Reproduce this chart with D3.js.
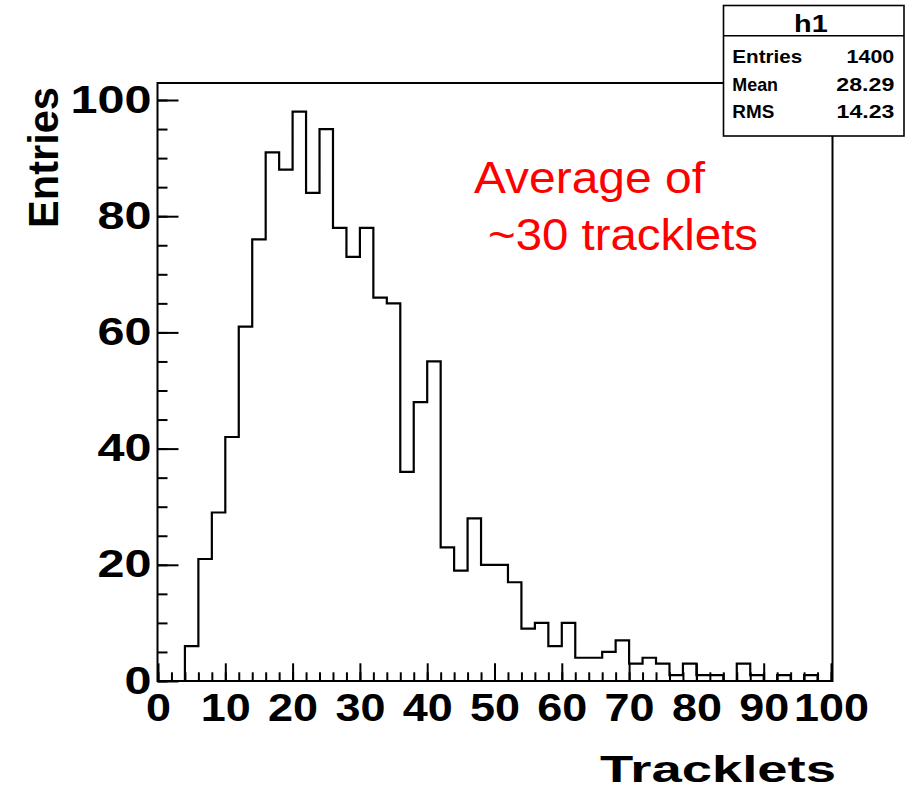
<!DOCTYPE html>
<html>
<head>
<meta charset="utf-8">
<script src="https://cdn.jsdelivr.net/npm/d3@7"></script>
<style>
  html, body { margin: 0; padding: 0; background: #fff; }
  svg { display: block; }
  text { font-family: "Liberation Sans", Arial, Helvetica, sans-serif; }
</style>
</head>
<body>
<svg id="chart" width="916" height="791"></svg>
<script>
// Histogram h1: tracklet multiplicity, 50 bins of width 2 from 0 to 100
const binLow = 0;
const binWidth = 2;
const binCounts = [
  0, 0, 6, 21, 29, 42, 61, 76, 91, 88,
  98, 84, 95, 78, 73, 78, 66, 65, 36, 48,
  55, 23, 19, 28, 20, 20, 17, 9, 10, 6,
  10, 4, 4, 5, 7, 3, 4, 3, 1, 3,
  1, 1, 0, 3, 1, 0, 1, 0, 1, 0
];
const xTickValues = [0, 10, 20, 30, 40, 50, 60, 70, 80, 90, 100];
const yTickValues = [0, 20, 40, 60, 80, 100];
const statsTitle = "h1";
const statsNames = ["Entries", "Mean", "RMS"];
const statsValues = ["1400", "28.29", "14.23"];
const xTitle = "Tracklets";
const yTitle = "Entries";
const noteLines = ["Average of", "~30 tracklets"];

const svg = d3.select("#chart");

// Frame of the pad
const frame = { left: 157.5, right: 832.5, top: 83, bottom: 681 };

const x = d3.scaleLinear().domain([0, 100]).range([158, 831]);
const y = d3.scaleLinear().domain([0, 100]).range([681, 100]);

const boldFont = "bold";
const digitSize = 38;

// Frame
svg.append("rect")
  .attr("x", frame.left).attr("y", frame.top)
  .attr("width", frame.right - frame.left)
  .attr("height", frame.bottom - frame.top)
  .attr("fill", "none").attr("stroke", "#000").attr("stroke-width", 2);

// X axis: minor ticks every 2, major every 10, drawn upward into the frame
const xMinor = d3.axisBottom(x).tickValues(d3.range(0, 101, 2)).tickSize(-8.7).tickFormat("");
const gxMinor = svg.append("g").attr("transform", `translate(0,${frame.bottom})`).call(xMinor);
const xMajor = d3.axisBottom(x).tickValues(xTickValues).tickSize(-17.7).tickPadding(13).tickFormat(d3.format("d"));
const gx = svg.append("g").attr("transform", `translate(0,${frame.bottom})`).call(xMajor);

// Y axis: minor ticks every 5, major every 20, drawn rightward into the frame
const yMinor = d3.axisLeft(y).tickValues(d3.range(0, 101, 5)).tickSize(-10).tickFormat("");
const gyMinor = svg.append("g").attr("transform", `translate(${frame.left},0)`).call(yMinor);
const yMajor = d3.axisLeft(y).tickValues(yTickValues).tickSize(-21).tickPadding(6).tickFormat(d3.format("d"));
const gy = svg.append("g").attr("transform", `translate(${frame.left},0)`).call(yMajor);

[gxMinor, gx, gyMinor, gy].forEach(g => {
  g.select(".domain").remove();
  g.selectAll(".tick line").attr("stroke", "#000").attr("stroke-width", 2);
});

gx.selectAll(".tick text")
  .attr("fill", "#000")
  .style("font-size", digitSize + "px").style("font-weight", boldFont)
  .attr("textLength", d => String(d).length * 25)
  .attr("lengthAdjust", "spacingAndGlyphs");

gy.selectAll(".tick text")
  .attr("fill", "#000")
  .style("font-size", digitSize + "px").style("font-weight", boldFont)
  .attr("textLength", d => String(d).length * 27)
  .attr("lengthAdjust", "spacingAndGlyphs");

// Histogram outline as a step line
const steps = binCounts.map((c, i) => [binLow + i * binWidth, c]);
steps.push([binLow + binCounts.length * binWidth, binCounts[binCounts.length - 1]]);
const stepLine = d3.line()
  .x(d => x(d[0]))
  .y(d => y(d[1]))
  .curve(d3.curveStepAfter);
svg.append("path")
  .datum(steps)
  .attr("d", stepLine)
  .attr("fill", "none")
  .attr("stroke", "#000")
  .attr("stroke-width", 2.2)
  .attr("stroke-linejoin", "miter");

// Axis titles
svg.append("text")
  .attr("x", 600).attr("y", 782)
  .style("font-size", "36px").style("font-weight", boldFont)
  .attr("textLength", 236).attr("lengthAdjust", "spacingAndGlyphs")
  .text(xTitle);

svg.append("text")
  .attr("transform", "translate(58,87) rotate(-90)")
  .attr("text-anchor", "end")
  .style("font-size", "42px").style("font-weight", boldFont)
  .attr("textLength", 141).attr("lengthAdjust", "spacingAndGlyphs")
  .text(yTitle);

// Annotation
const noteLayout = [
  { x: 474, y: 193, len: 231 },
  { x: 488, y: 250, len: 270 }
];
noteLines.forEach((t, i) => {
  svg.append("text")
    .attr("x", noteLayout[i].x).attr("y", noteLayout[i].y)
    .attr("fill", "#ff0000")
    .style("font-size", "44px")
    .attr("textLength", noteLayout[i].len).attr("lengthAdjust", "spacingAndGlyphs")
    .text(t);
});

// Statistics box
const box = { left: 723.5, right: 904, top: 5.5, bottom: 136, split: 35.7 };
svg.append("rect")
  .attr("x", box.left).attr("y", box.top)
  .attr("width", box.right - box.left).attr("height", box.bottom - box.top)
  .attr("fill", "#fff").attr("stroke", "#000").attr("stroke-width", 1.6);
svg.append("line")
  .attr("x1", box.left).attr("x2", box.right)
  .attr("y1", box.split).attr("y2", box.split)
  .attr("stroke", "#000").attr("stroke-width", 1.6);

svg.append("text")
  .attr("x", 794).attr("y", 32.3)
  .style("font-size", "24px").style("font-weight", boldFont)
  .attr("textLength", 33.7).attr("lengthAdjust", "spacingAndGlyphs")
  .text(statsTitle);

const rowBase = [62.7, 90.7, 118.3];
const nameLen = [70, 45.7, 42];
const valueLen = [47.7, 58, 57.7];
statsNames.forEach((n, i) => {
  svg.append("text")
    .attr("x", 732.3).attr("y", rowBase[i])
    .style("font-size", "17.7px").style("font-weight", boldFont)
    .attr("textLength", nameLen[i]).attr("lengthAdjust", "spacingAndGlyphs")
    .text(n);
  svg.append("text")
    .attr("x", 894.3 - valueLen[i]).attr("y", rowBase[i])
    .style("font-size", "17.7px").style("font-weight", boldFont)
    .attr("textLength", valueLen[i]).attr("lengthAdjust", "spacingAndGlyphs")
    .text(statsValues[i]);
});
</script>
</body>
</html>
